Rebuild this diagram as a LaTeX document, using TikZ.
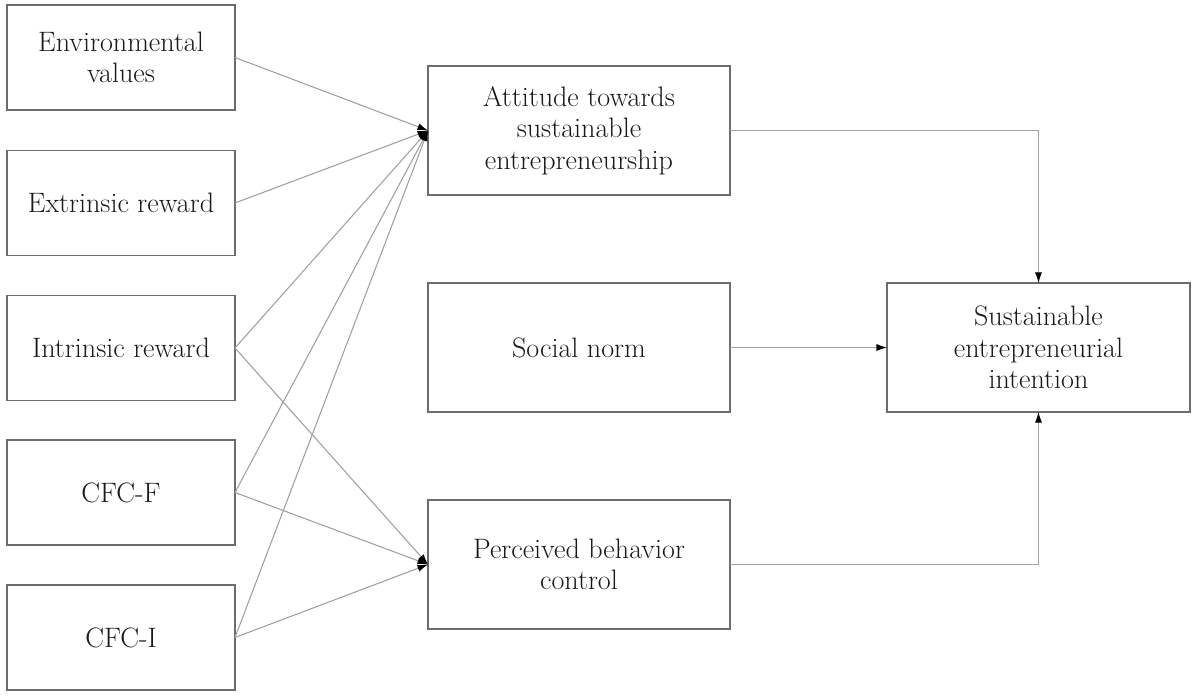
\documentclass[tikz,border=0pt]{standalone}
\usetikzlibrary{arrows.meta}

\def\BOXCOLOR{gray!85!black}
\def\LINECOLOR{gray!75}

\begin{document}
\begin{tikzpicture}[x=0.02cm,y=-0.02cm,
	box/.style={draw=\BOXCOLOR,line width=1pt,inner sep=0pt,outer sep=0pt,
		align=center,text=black!90,font=\fontsize{16}{18}\selectfont},
	leftbox/.style={box,minimum width=4.56cm,minimum height=2.1cm},
	midbox/.style={box,minimum width=6.04cm,minimum height=2.58cm},
	link/.style={draw=\LINECOLOR,line width=0.6pt,-{Latex[length=6pt,width=4pt,black]}}]

	\useasboundingbox (0,0) rectangle (1200,696);

	% predictors
	\node[leftbox] (env) at (121,57.5) {Environmental\\values};
	\node[leftbox] (ext) at (121,203) {Extrinsic reward};
	\node[leftbox] (int) at (121,348) {Intrinsic reward};
	\node[leftbox] (cfcf) at (121,492.5) {CFC-F};
	\node[leftbox] (cfci) at (121,637.5) {CFC-I};

	% mediators
	\node[midbox] (att) at (579,130.5) {Attitude towards\\sustainable\\entrepreneurship};
	\node[midbox] (sn) at (579,347.5) {Social norm};
	\node[midbox] (pbc) at (579,564.5) {Perceived behavior\\control};

	% outcome
	\node[midbox,minimum width=6.06cm] (sei) at (1038.5,347.5) {Sustainable\\entrepreneurial\\intention};

	\draw[link] (env.east) -- (att.west);
	\draw[link] (ext.east) -- (att.west);
	\draw[link] (int.east) -- (att.west);
	\draw[link] (cfcf.east) -- (att.west);
	\draw[link] (cfci.east) -- (att.west);

	\draw[link] (int.east) -- (pbc.west);
	\draw[link] (cfcf.east) -- (pbc.west);
	\draw[link] (cfci.east) -- (pbc.west);

	\draw[link] (att.east) -| (sei.north);
	\draw[link] (sn.east) -- (sei.west);
	\draw[link] (pbc.east) -| (sei.south);

\end{tikzpicture}
\end{document}
